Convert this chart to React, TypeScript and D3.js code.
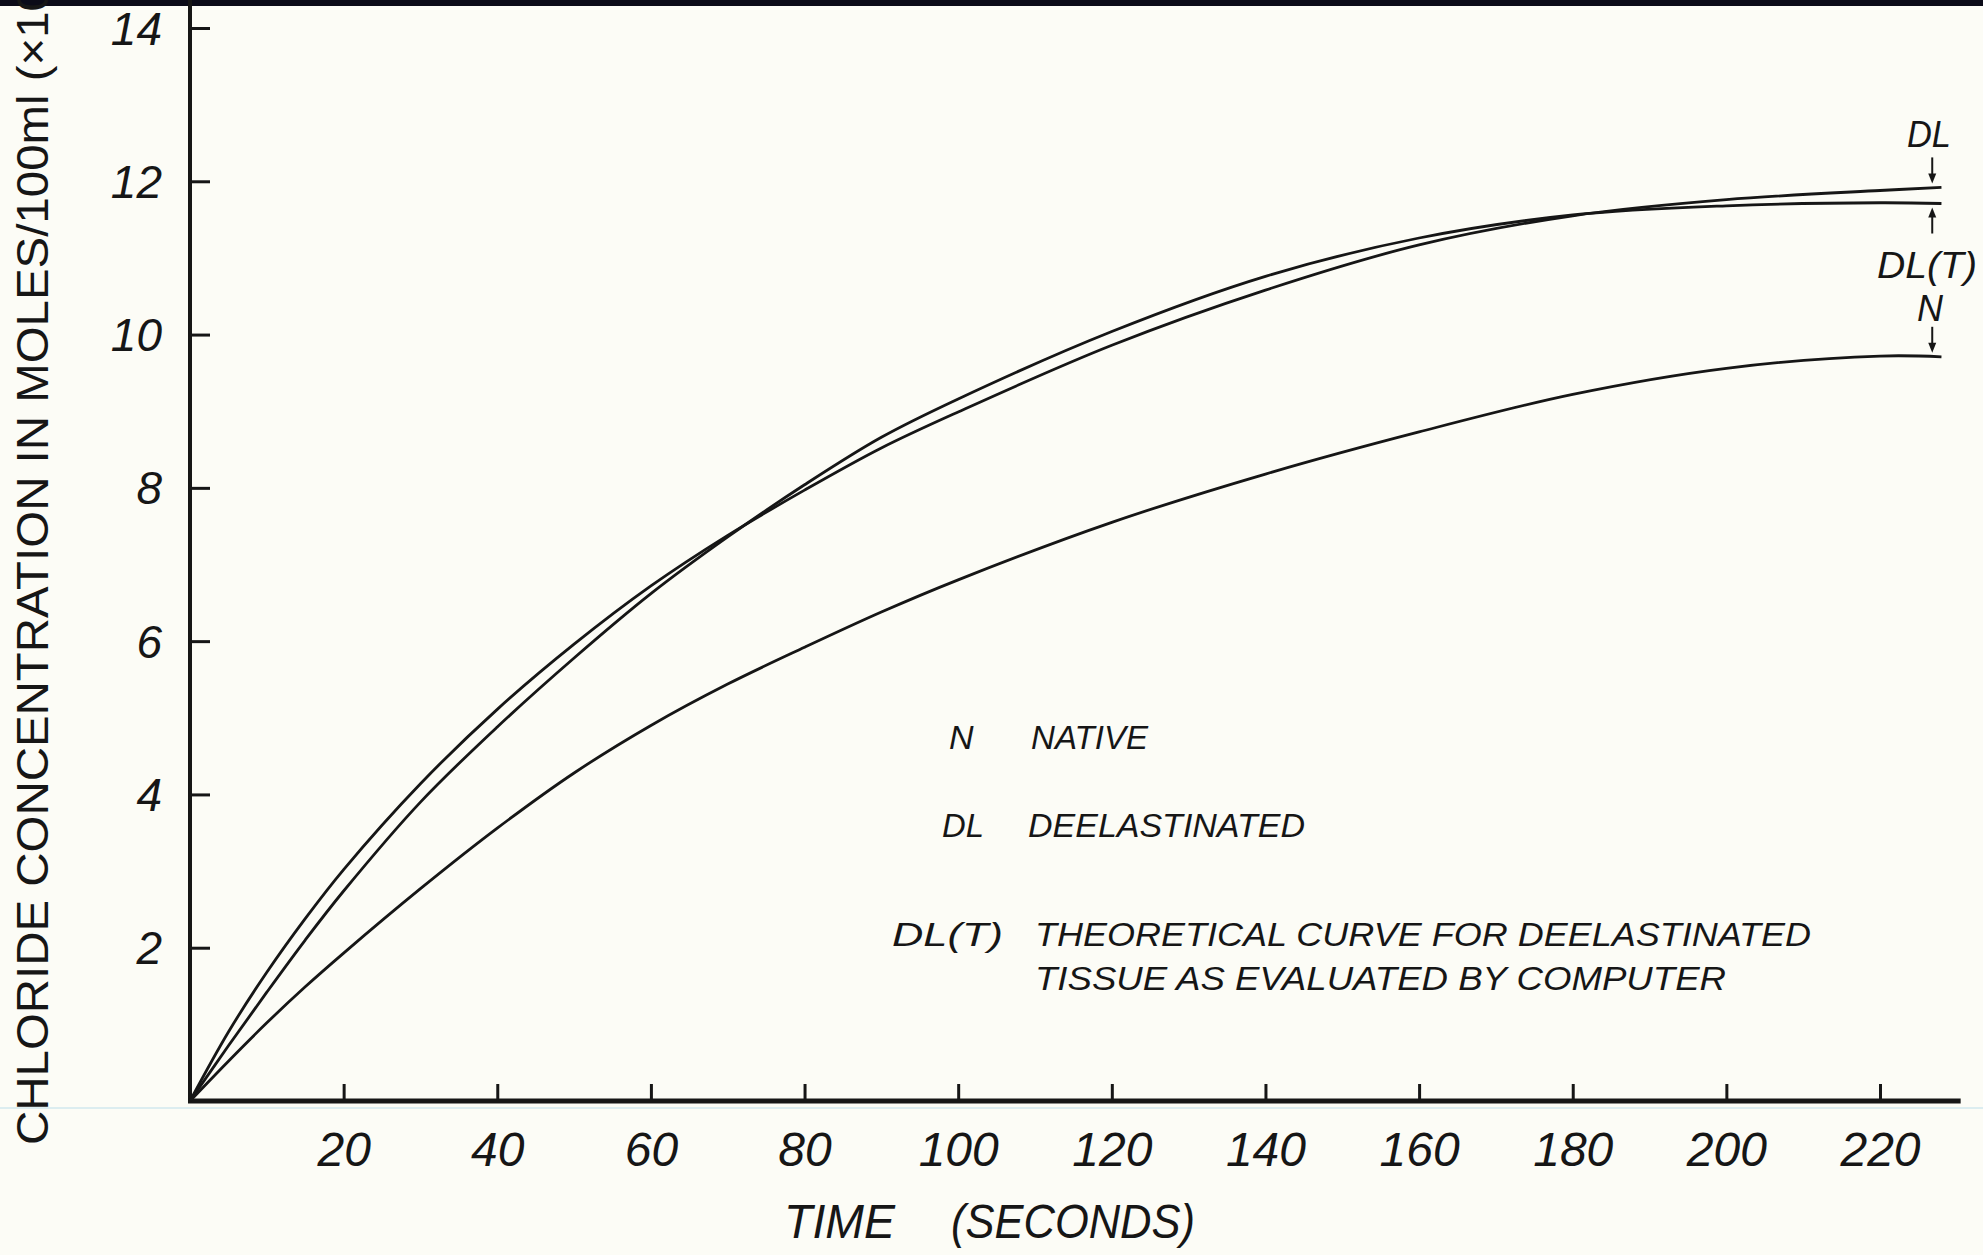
import React, { useEffect, useRef } from 'react';
import * as d3 from 'd3';

// time in seconds, shared by the three curves
const timeSec = [0, 5, 10, 15, 20, 30, 40, 50, 60, 70, 80, 90, 100, 120, 140, 160, 180, 200, 220, 228];
// chloride concentration, moles/100ml
const dlValues = [0, 0.9, 1.68, 2.38, 3.02, 4.14, 5.11, 5.96, 6.72, 7.38, 7.97, 8.52, 8.99, 9.86, 10.58, 11.17, 11.55, 11.76, 11.88, 11.92];
const dltValues = [0, 0.72, 1.42, 2.1, 2.74, 3.9, 4.88, 5.78, 6.62, 7.36, 8.04, 8.66, 9.16, 10.04, 10.76, 11.26, 11.56, 11.68, 11.72, 11.71];
const nativeValues = [0, 0.52, 1.02, 1.49, 1.93, 2.77, 3.56, 4.28, 4.9, 5.44, 5.92, 6.38, 6.8, 7.55, 8.18, 8.73, 9.22, 9.56, 9.72, 9.71];

const xTicks = [20, 40, 60, 80, 100, 120, 140, 160, 180, 200, 220];
const yTicks = [2, 4, 6, 8, 10, 12, 14];
const xAxisEnd = 230.5;

const legendKeys = ['N', 'DL', 'DL(T)'];
const legendTexts = ['NATIVE', 'DEELASTINATED', 'THEORETICAL CURVE FOR DEELASTINATED', 'TISSUE AS EVALUATED BY COMPUTER'];
const yTitle = 'CHLORIDE CONCENTRATION IN MOLES/100ml (×10';

export default function App() {
  const svgRef = useRef<SVGSVGElement>(null);
  const width = 1983;
  const height = 1255;
  const ink = '#161616';
  const font = '"Liberation Sans", Arial, sans-serif';

  useEffect(() => {
    const svg = d3.select(svgRef.current);
    svg.selectAll('*').remove();

    const x = d3.scaleLinear().domain([0, 220]).range([190, 1880]);
    const y = d3.scaleLinear().domain([0, 14]).range([1101, 28]);

    // paper
    svg.append('rect').attr('width', width).attr('height', height).attr('fill', '#fcfcf6');
    svg.append('rect').attr('width', width).attr('height', 6).attr('fill', '#0b0b18');
    // faint scan line under the axis
    svg.append('line')
      .attr('x1', 0).attr('x2', width).attr('y1', y(0) + 7).attr('y2', y(0) + 7)
      .attr('stroke', '#dcedf0').attr('stroke-width', 2);

    // axis lines
    svg.append('line')
      .attr('x1', x(0)).attr('x2', x(0)).attr('y1', 0).attr('y2', y(0) + 2)
      .attr('stroke', ink).attr('stroke-width', 4);
    svg.append('line')
      .attr('x1', x(0) - 2).attr('x2', x(xAxisEnd)).attr('y1', y(0)).attr('y2', y(0))
      .attr('stroke', ink).attr('stroke-width', 5);

    // x ticks
    const gx = svg.append('g')
      .attr('transform', `translate(0,${y(0)})`)
      .call(d3.axisBottom(x).tickValues(xTicks).tickSizeInner(-17).tickSizeOuter(0));
    gx.select('.domain').remove();
    gx.selectAll('.tick line').attr('stroke', ink).attr('stroke-width', 3);
    gx.selectAll('.tick text')
      .attr('y', 65).attr('dy', 0)
      .attr('fill', ink)
      .attr('font-size', 48)
      .attr('font-style', 'italic')
      .attr('font-family', font);

    // y ticks
    const gy = svg.append('g')
      .attr('transform', `translate(${x(0)},0)`)
      .call(d3.axisLeft(y).tickValues(yTicks).tickSizeInner(-20).tickSizeOuter(0));
    gy.select('.domain').remove();
    gy.selectAll('.tick line').attr('stroke', ink).attr('stroke-width', 3);
    gy.selectAll('.tick text')
      .attr('x', -28).attr('dy', '0.35em')
      .attr('fill', ink)
      .attr('font-size', 46)
      .attr('font-style', 'italic')
      .attr('font-family', font);

    // curves
    const line = d3.line<number>()
      .x((_, i) => x(timeSec[i]))
      .y((d) => y(d))
      .curve(d3.curveCatmullRom.alpha(0.5));

    [dlValues, dltValues, nativeValues].forEach((vals) => {
      svg.append('path')
        .attr('d', line(vals))
        .attr('fill', 'none')
        .attr('stroke', ink)
        .attr('stroke-width', 2.8);
    });

    // end labels with arrows
    const ax = x(226.8);
    const arrow = (tail: number, tip: number) => {
      const dir = tip > tail ? 1 : -1;
      svg.append('line')
        .attr('x1', ax).attr('x2', ax).attr('y1', tail).attr('y2', tip - dir * 6)
        .attr('stroke', ink).attr('stroke-width', 2);
      svg.append('path')
        .attr('d', `M${ax - 4},${tip - dir * 10}L${ax + 4},${tip - dir * 10}L${ax},${tip}Z`)
        .attr('fill', ink);
    };
    const dlEnd = y(dlValues[dlValues.length - 1]);
    const dltEnd = y(dltValues[dltValues.length - 1]);
    const nEnd = y(nativeValues[nativeValues.length - 1]);
    arrow(dlEnd - 30, dlEnd - 4);
    arrow(dltEnd + 30, dltEnd + 4);
    arrow(nEnd - 30, nEnd - 4);

    const endLabel = (txt: string, cx: number, base: number, len?: number) => {
      const t = svg.append('text')
        .attr('x', cx).attr('y', base)
        .attr('text-anchor', 'middle')
        .attr('fill', ink)
        .attr('font-size', 36)
        .attr('font-style', 'italic')
        .attr('font-family', font)
        .text(txt);
      if (len) t.attr('textLength', len).attr('lengthAdjust', 'spacingAndGlyphs');
    };
    endLabel(legendKeys[1], 1929, dlEnd - 40, 44);
    endLabel(legendKeys[2], 1927, dltEnd + 74, 100);
    endLabel(legendKeys[0], 1930, nEnd - 36);

    // legend
    const legendText = (txt: string, lx: number, base: number, len?: number) => {
      const t = svg.append('text')
        .attr('x', lx).attr('y', base)
        .attr('fill', ink)
        .attr('font-size', 34)
        .attr('font-style', 'italic')
        .attr('font-family', font)
        .text(txt);
      if (len) t.attr('textLength', len).attr('lengthAdjust', 'spacingAndGlyphs');
    };
    legendText(legendKeys[0], 949, 749);
    legendText(legendTexts[0], 1031, 749, 117);
    legendText(legendKeys[1], 942, 837, 42);
    legendText(legendTexts[1], 1028, 837, 277);
    legendText(legendKeys[2], 892, 946, 111);
    legendText(legendTexts[2], 1035, 946, 776);
    legendText(legendTexts[3], 1035, 990, 691);

    // axis titles
    svg.append('text')
      .attr('transform', 'translate(48,1145) rotate(-90)')
      .attr('fill', ink)
      .attr('font-size', 45)
      .attr('font-family', font)
      .attr('textLength', 1160)
      .attr('lengthAdjust', 'spacingAndGlyphs')
      .text(yTitle);

    svg.append('text')
      .attr('x', 784).attr('y', 1238)
      .attr('fill', ink)
      .attr('font-size', 49)
      .attr('font-style', 'italic')
      .attr('font-family', font)
      .attr('textLength', 111)
      .attr('lengthAdjust', 'spacingAndGlyphs')
      .text('TIME');
    svg.append('text')
      .attr('x', 951).attr('y', 1238)
      .attr('fill', ink)
      .attr('font-size', 49)
      .attr('font-style', 'italic')
      .attr('font-family', font)
      .attr('textLength', 244)
      .attr('lengthAdjust', 'spacingAndGlyphs')
      .text('(SECONDS)');
  }, []);

  return (
    <svg
      ref={svgRef}
      width={width}
      height={height}
      style={{ position: 'absolute', left: 0, top: 0, display: 'block' }}
    />
  );
}
